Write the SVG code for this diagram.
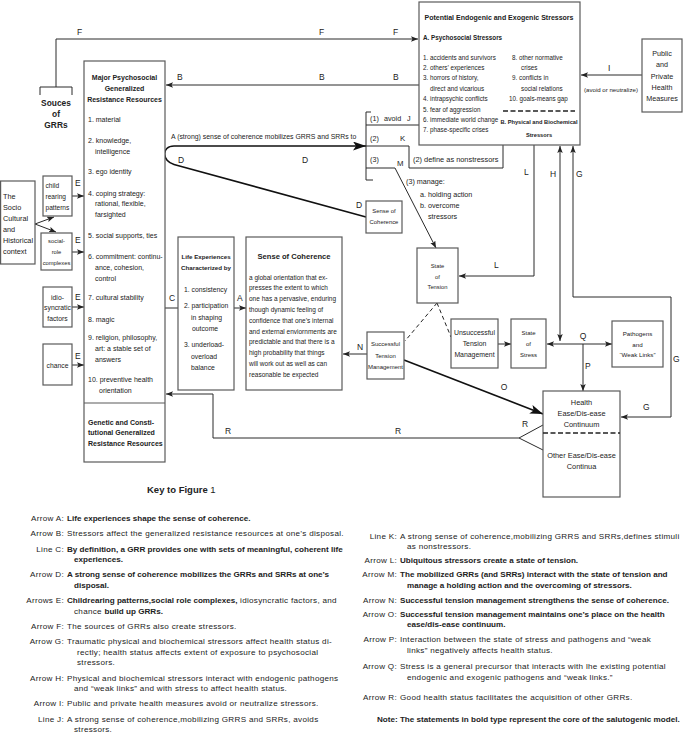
<svg xmlns="http://www.w3.org/2000/svg" width="685" height="735" viewBox="0 0 685 735">
<style>
text{font-family:"Liberation Sans",Arial,Helvetica,sans-serif;fill:#222}
.bx{fill:#fff;stroke:#5a5a5a;stroke-width:1.2}
.ln{fill:none;stroke:#2a2a2a;stroke-width:1}
.th{fill:none;stroke:#111;stroke-width:1.6}
.dash{fill:none;stroke:#222;stroke-width:1;stroke-dasharray:4 3}
.lb{font-size:8.5px}
.b{font-weight:bold}
.m{text-anchor:middle}
.e{text-anchor:end}
.k{font-size:8.1px}
.r{letter-spacing:0.3px}
</style>
<defs>
<marker id="ah" markerUnits="userSpaceOnUse" markerWidth="8" markerHeight="6" refX="7" refY="2.75" orient="auto-start-reverse">
<path d="M0,0 L7,2.75 L0,5.5 L1.5,2.75 Z" fill="#222"/>
</marker>
<marker id="big" markerUnits="userSpaceOnUse" markerWidth="14" markerHeight="10" refX="13" refY="4.5" orient="auto">
<path d="M0,0 L13,4.5 L0,9 L3,4.5 Z" fill="#111"/>
</marker>
</defs>

<g id="connectors">
<path class="ln" d="M56,87 V39 H418" marker-end="url(#ah)"/>
<path class="ln" d="M40,95 V87 H72 V95"/>
<line class="ln" x1="419" y1="85" x2="166" y2="85" marker-end="url(#ah)"/>
<line class="ln" x1="642" y1="75" x2="581" y2="75" marker-end="url(#ah)"/>
<line class="ln" x1="35" y1="224" x2="54" y2="217" marker-end="url(#ah)"/>
<line class="ln" x1="35" y1="224" x2="56" y2="232" marker-end="url(#ah)"/>
<line class="ln" x1="72" y1="196" x2="84" y2="196" marker-end="url(#ah)"/>
<line class="ln" x1="72" y1="252" x2="84" y2="252" marker-end="url(#ah)"/>
<line class="ln" x1="72" y1="307" x2="84" y2="307" marker-end="url(#ah)"/>
<line class="ln" x1="72" y1="365" x2="84" y2="365" marker-end="url(#ah)"/>
<line class="ln" x1="165" y1="308" x2="178" y2="308"/>
<line class="ln" x1="234" y1="308" x2="246" y2="308" marker-end="url(#ah)"/>
<path class="th" d="M366,217 L174,164.5 C162,161.5 161,146 174,146 L366,146" marker-end="url(#big)"/>
<path class="ln" d="M371,112 H366 V180 H373"/>
<line class="ln" x1="366" y1="125" x2="419" y2="125"/>
<path class="ln" d="M366,146 H409 V168 H503 V145"/>
<path class="ln" d="M366,168 H395"/>
<line class="ln" x1="395" y1="168" x2="436" y2="248" stroke-width="1.3" marker-end="url(#ah)"/>
<path class="ln" d="M534,145 V276 H459" marker-end="url(#ah)"/>
<line class="ln" x1="560" y1="341" x2="560" y2="146" marker-start="url(#ah)" marker-end="url(#ah)"/>
<path class="ln" d="M573,146 V297 H671 V417 H621" marker-start="url(#ah)" marker-end="url(#ah)"/>
<line class="dash" x1="437" y1="303" x2="405" y2="341"/>
<line class="dash" x1="437" y1="303" x2="451" y2="337"/>
<line class="ln" x1="498" y1="344" x2="511" y2="344" marker-end="url(#ah)"/>
<line class="ln" x1="547" y1="344" x2="612" y2="344" marker-start="url(#ah)" marker-end="url(#ah)"/>
<line class="ln" x1="583" y1="344" x2="583" y2="391" marker-end="url(#ah)"/>
<line class="ln" x1="367" y1="354" x2="343" y2="354" marker-end="url(#ah)"/>
<line class="th" x1="404" y1="360" x2="543" y2="414" marker-end="url(#big)"/>
<path class="ln" d="M543,425 L519,438 L543,450"/>
<path class="ln" d="M519,438 H213 V394 H166" marker-end="url(#ah)"/>
</g>

<g id="connector-labels" class="lb">
<text x="77" y="35">F</text><text x="319" y="35">F</text><text x="393" y="35">F</text>
<text x="177" y="80">B</text><text x="319" y="80">B</text><text x="393" y="80">B</text>
<text x="608" y="71">I</text>
<text x="75" y="186">E</text><text x="75" y="243">E</text><text x="75" y="300">E</text><text x="75" y="359">E</text>
<text x="169" y="301">C</text><text x="237" y="301">A</text>
<text x="178" y="163">D</text><text x="302" y="163">D</text><text x="356" y="208">D</text>
<text x="524" y="175">L</text><text x="494" y="268">L</text>
<text x="550" y="177">H</text><text x="576" y="177">G</text>
<text x="673" y="362">G</text><text x="643" y="410">G</text>
<text x="583" y="339" class="m">Q</text><text x="585" y="369">P</text>
<text x="360" y="350" class="m">N</text><text x="504" y="390" class="m">O</text>
<text x="225" y="434">R</text><text x="395" y="434">R</text><text x="522" y="427">R</text>
</g>

<g id="stressors">
<rect class="bx" x="419" y="2" width="161" height="143"/>
<text x="499" y="19.5" class="m b" font-size="7">Potential Endogenic and Exogenic Stressors</text>
<text x="423" y="40" class="b" font-size="6.3">A. Psychosocial Stressors</text>
<g font-size="6.3">
<text x="423" y="59.5">1. accidents and survivors</text>
<text x="423" y="69.9">2. others’ experiences</text>
<text x="423" y="80.3">3. horrors of history,</text>
<text x="430" y="90.7">direct and vicarious</text>
<text x="423" y="101.1">4. intrapsychic conflicts</text>
<text x="423" y="111.5">5. fear of aggression</text>
<text x="423" y="121.9">6. immediate world change</text>
<text x="423" y="132.3">7. phase-specific crises</text>
<text x="512" y="59.5">8. other normative</text>
<text x="521" y="69.9">crises</text>
<text x="512" y="80.3">9. conflicts in</text>
<text x="521" y="90.7">social relations</text>
<text x="509" y="101.1">10. goals-means gap</text>
</g>
<line x1="503" y1="111" x2="575" y2="111" stroke="#222" stroke-width="1.5" stroke-dasharray="5 2.5"/>
<text x="539" y="124" class="m b" font-size="5.7">B. Physical and Biochemical</text>
<text x="539" y="137" class="m b" font-size="5.7">Stressors</text>
</g>

<g id="coping-options">
<text x="370" y="121" font-size="7.2">(1)</text>
<text x="384" y="121" font-size="7.2">avoid</text>
<text x="407" y="121" font-size="7.2">J</text>
<text x="370" y="141" font-size="7.2">(2)</text>
<text x="400" y="141" font-size="7.8">K</text>
<text x="370" y="162" font-size="7.2">(3)</text>
<text x="397" y="166" font-size="7.8">M</text>
<text x="413" y="162" font-size="7.4">(2) define as nonstressors</text>
<text x="406" y="184" font-size="7.2">(3) manage:</text>
<text x="420" y="197" font-size="7.2">a. holding action</text>
<text x="420" y="208" font-size="7.2">b. overcome</text>
<text x="428" y="219" font-size="7.2">stressors</text>
<text x="171" y="139" font-size="6.9">A (strong) sense of coherence mobilizes GRRS and SRRs to</text>
</g>

<g id="public-health">
<rect class="bx" x="642" y="39" width="40" height="73"/>
<g font-size="7.2" class="m">
<text x="662" y="56">Public</text><text x="662" y="67">and</text><text x="662" y="79">Private</text><text x="662" y="90">Health</text><text x="662" y="101">Measures</text>
</g>
<text x="611" y="92" class="m" font-size="6.1">(avoid or neutralize)</text>
</g>

<g id="sources-grrs">
<text x="56" y="106" class="m b" font-size="8.4">Souces</text>
<text x="56" y="117" class="m b" font-size="8.4">of</text>
<text x="56" y="128" class="m b" font-size="8.4">GRRs</text>
</g>

<g id="grr">
<rect class="bx" x="84" y="61" width="81" height="401"/>
<line x1="84" y1="403" x2="165" y2="403" stroke="#5a5a5a" stroke-width="1.2"/>
<g class="b m" font-size="7">
<text x="124.5" y="79.5">Major Psychosocial</text>
<text x="124.5" y="90.5">Generalized</text>
<text x="124.5" y="101.5">Resistance Resources</text>
</g>
<g font-size="7">
<text x="88" y="121.5">1. material</text>
<text x="88" y="142.5">2. knowledge,</text>
<text x="95" y="153.5">intelligence</text>
<text x="88" y="173.5">3. ego identity</text>
<text x="88" y="195.5">4. coping strategy:</text>
<text x="95" y="205.5">rational, flexible,</text>
<text x="95" y="216.5">farsighted</text>
<text x="88" y="237.5">5. social supports, ties</text>
<text x="88" y="258.5">6. commitment: continu-</text>
<text x="95" y="269.5">ance, cohesion,</text>
<text x="95" y="280.5">control</text>
<text x="88" y="299.5">7. cultural stability</text>
<text x="88" y="321.5">8. magic</text>
<text x="88" y="339.5">9. religion, philosophy,</text>
<text x="95" y="350.5">art: a stable set of</text>
<text x="95" y="361.5">answers</text>
<text x="88" y="381.5">10. preventive health</text>
<text x="99" y="392.5">orientation</text>
</g>
<g class="b" font-size="7">
<text x="88" y="424.5">Genetic and Consti-</text>
<text x="88" y="435">tutional Generalized</text>
<text x="88" y="445.5">Resistance Resources</text>
</g>
</g>

<g id="socio-cultural">
<rect class="bx" x="0.6" y="181" width="34.4" height="83"/>
<g font-size="7.3">
<text x="3" y="198.5">The</text><text x="3" y="209.5">Socio</text><text x="3" y="220.5">Cultural</text><text x="3" y="231.5">and</text><text x="3" y="242.5">Historical</text><text x="3" y="253.5">context</text>
</g>
</g>

<g id="child-rearing">
<rect class="bx" x="43" y="176" width="29" height="40"/>
<g font-size="6.6"><text x="45.5" y="187.5">child</text><text x="45.5" y="198.5">rearing</text><text x="45.5" y="210">patterns</text></g>
</g>
<g id="social-role">
<rect class="bx" x="41" y="233" width="31" height="37"/>
<g font-size="5.8" class="m"><text x="56.5" y="243">social-</text><text x="56.5" y="254">role</text><text x="56.5" y="265">complexes</text></g>
</g>
<g id="idiosyncratic">
<rect class="bx" x="43" y="287" width="29" height="40"/>
<g font-size="6.8" class="m"><text x="57.5" y="299.5">idio-</text><text x="57.5" y="309.5">syncratic</text><text x="57.5" y="320.5">factors</text></g>
</g>
<g id="chance">
<rect class="bx" x="43" y="344" width="29" height="41"/>
<text x="57.5" y="367.5" font-size="6.8" class="m">chance</text>
</g>

<g id="life-experiences">
<rect class="bx" x="178" y="237" width="56" height="153"/>
<text x="206" y="258.5" class="m b" font-size="6.2">Life Experiences</text>
<text x="206" y="269.5" class="m b" font-size="6.2">Characterized by</text>
<g font-size="6.8">
<text x="184" y="291.5">1. consistency</text>
<text x="184" y="308">2. participation</text>
<text x="191" y="319.5">in shaping</text>
<text x="192" y="330.5">outcome</text>
<text x="184" y="347">3. underload-</text>
<text x="191" y="358.5">overload</text>
<text x="191" y="369.5">balance</text>
</g>
</g>

<g id="sense-of-coherence">
<rect class="bx" x="246" y="237" width="96" height="153"/>
<text x="294" y="259" class="m b" font-size="7.6">Sense of Coherence</text>
<g font-size="6.5">
<text x="249" y="279.5">a global orientation that ex-</text>
<text x="249" y="290.3">presses the extent to which</text>
<text x="249" y="301.1">one has a pervasive, enduring</text>
<text x="249" y="311.9">though dynamic feeling of</text>
<text x="249" y="322.7">confidence that one’s internal</text>
<text x="249" y="333.5">and external enviornments are</text>
<text x="249" y="344.3">predictable and that there is a</text>
<text x="249" y="355.1">high probability that things</text>
<text x="249" y="365.9">will work out as well as can</text>
<text x="249" y="376.7">reasonable be expected</text>
</g>
</g>

<g id="soc-small">
<rect class="bx" x="366" y="201" width="36" height="32"/>
<text x="384" y="213" class="m" font-size="5.9">Sense of</text>
<text x="384" y="224" class="m" font-size="5.9">Coherence</text>
</g>

<g id="state-of-tension">
<rect class="bx" x="417" y="248" width="41" height="55"/>
<g font-size="5.8" class="m"><text x="437.5" y="268">State</text><text x="437.5" y="278.5">of</text><text x="437.5" y="289.3">Tension</text></g>
</g>

<g id="successful">
<rect class="bx" x="367" y="332" width="37" height="47"/>
<g font-size="6" class="m"><text x="385.5" y="346">Successful</text><text x="385.5" y="357.5">Tension</text><text x="385.5" y="369">Management</text></g>
</g>

<g id="unsuccessful">
<rect class="bx" x="451" y="319" width="47" height="49"/>
<g font-size="6.9" class="m"><text x="474.5" y="335">Unsuccessful</text><text x="474.5" y="345.8">Tension</text><text x="474.5" y="356.8">Management</text></g>
</g>

<g id="state-of-stress">
<rect class="bx" x="511" y="319" width="35" height="49"/>
<g font-size="6" class="m"><text x="528.5" y="334.5">State</text><text x="528.5" y="345.5">of</text><text x="528.5" y="356.5">Stress</text></g>
</g>

<g id="pathogens">
<rect class="bx" x="612" y="321" width="51" height="46"/>
<g font-size="6.2" class="m"><text x="637.5" y="335.5">Pathogens</text><text x="637.5" y="346.5">and</text><text x="637.5" y="357">“Weak Links”</text></g>
</g>

<g id="health">
<rect class="bx" x="543" y="391" width="77" height="106"/>
<line x1="543" y1="433" x2="620" y2="433" stroke="#222" stroke-width="1.5" stroke-dasharray="5 2.5"/>
<g font-size="7.4" class="m">
<text x="581.5" y="405">Health</text><text x="581.5" y="416">Ease/Dis-ease</text><text x="581.5" y="427">Continuum</text>
<text x="581.5" y="457.7">Other Ease/Dis-ease</text><text x="581.5" y="469.4">Continua</text>
</g>
</g>

<g id="key">
<text x="147" y="493" font-size="9.5" class="b">Key to Figure <tspan font-weight="normal">1</tspan></text>
<g class="k">
<text x="64" y="521" class="e r">Arrow A:</text><text x="67" y="521" class="b">Life experiences shape the sense of coherence.</text>
<text x="64" y="536.3" class="e r">Arrow B:</text><text x="67" y="536.3" class="r">Stressors affect the generalized resistance resources at one’s disposal.</text>
<text x="64" y="551.6" class="e r">Line C:</text><text x="67" y="551.6" class="b">By definition, a GRR provides one with sets of meaningful, coherent life</text>
<text x="74" y="562.1" class="b">experiences.</text>
<text x="64" y="577.4" class="e r">Arrow D:</text><text x="67" y="577.4" class="b">A strong sense of coherence mobilizes the GRRs and SRRs at one’s</text>
<text x="74" y="587.9" class="b">disposal.</text>
<text x="64" y="603.2" class="e r">Arrows E:</text><text x="67" y="603.2"><tspan font-weight="bold">Childrearing patterns,social role complexes,</tspan><tspan class="r"> idiosyncratic factors, and</tspan></text>
<text x="74" y="613.7"><tspan class="r">chance </tspan><tspan font-weight="bold">build up GRRs.</tspan></text>
<text x="64" y="629" class="e r">Arrow F:</text><text x="67" y="629" class="r">The sources of GRRs also create stressors.</text>
<text x="64" y="644.3" class="e r">Arrow G:</text><text x="67" y="644.3" class="r">Traumatic physical and biochemical stressors affect health status di-</text>
<text x="77" y="654.8" class="r">rectly; health status affects extent of exposure to psychosocial</text>
<text x="77" y="665.3" class="r">stressors.</text>
<text x="64" y="680.6" class="e r">Arrow H:</text><text x="67" y="680.6" class="r">Physical and biochemical stressors interact with endogenic pathogens</text>
<text x="74" y="691.1" class="r">and “weak links” and with stress to affect health status.</text>
<text x="64" y="706.4" class="e r">Arrow I:</text><text x="67" y="706.4" class="r">Public and private health measures avoid or neutralize stressors.</text>
<text x="64" y="721.7" class="e r">Line J:</text><text x="67" y="721.7" class="r">A strong sense of coherence,mobilizing GRRS and SRRs, avoids</text>
<text x="74" y="732.2" class="r">stressors.</text>

<text x="397" y="538.5" class="e r">Line K:</text><text x="400" y="538.5" class="r">A strong sense of coherence,mobilizing GRRS and SRRs,defines stimuli</text>
<text x="407" y="549" class="r">as nonstressors.</text>
<text x="397" y="563" class="e r">Arrow L:</text><text x="400" y="563" class="b">Ubiquitous stressors create a state of tension.</text>
<text x="397" y="577.4" class="e r">Arrow M:</text><text x="400" y="577.4" class="b">The mobilized GRRs (and SRRs) interact with the state of tension and</text>
<text x="407" y="588" class="b">manage a holding action and the overcoming of stressors.</text>
<text x="397" y="603.2" class="e r">Arrow N:</text><text x="400" y="603.2" class="b">Successful tension management strengthens the sense of coherence.</text>
<text x="397" y="616.5" class="e r">Arrow O:</text><text x="400" y="616.5" class="b">Successful tension management maintains one’s place on the health</text>
<text x="407" y="627" class="b">ease/dis-ease  continuum.</text>
<text x="397" y="642.3" class="e r">Arrow P:</text><text x="400" y="642.3" class="r">Interaction between the state of stress and pathogens and “weak</text>
<text x="407" y="652.8" class="r">links” negatively affects health status.</text>
<text x="397" y="669" class="e r">Arrow Q:</text><text x="400" y="669" class="r">Stress is a general precursor that interacts with lhe existing potential</text>
<text x="407" y="679.5" class="r">endogenic and exogenic pathogens and “weak links.”</text>
<text x="397" y="700" class="e r">Arrow R:</text><text x="400" y="700" class="r">Good health status facilitates the acquisition of other GRRs.</text>
<text x="377" y="721.7" class="b">Note: The statements in bold type represent the core of the salutogenic model.</text>
</g>
</g>
</svg>
